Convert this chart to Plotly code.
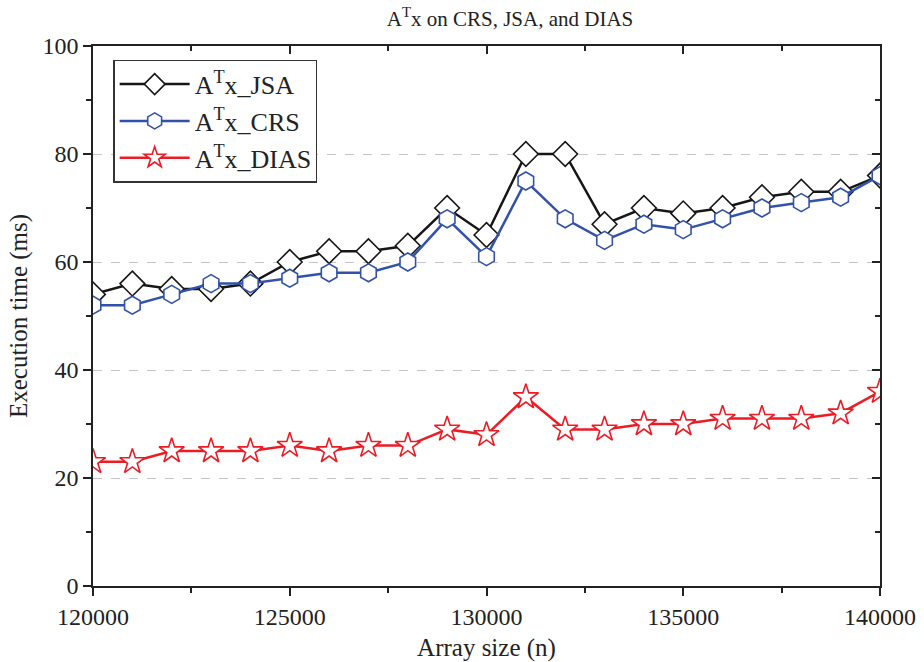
import plotly.graph_objects as go

# Array sizes (n) and execution times (ms) for A^T x on three storage formats
array_size = list(range(120000, 140001, 1000))
jsa_ms = [54, 56, 55, 55, 56, 60, 62, 62, 63, 70, 65, 80, 80, 67, 70, 69, 70, 72, 73, 73, 76]
crs_ms = [52, 52, 54, 56, 56, 57, 58, 58, 60, 68, 61, 75, 68, 64, 67, 66, 68, 70, 71, 72, 76]
dias_ms = [23, 23, 25, 25, 25, 26, 25, 26, 26, 29, 28, 35, 29, 29, 30, 30, 31, 31, 31, 32, 36]

FONT = "Liberation Serif"
BLACK = "#161616"
BLUE = "#3152a8"
RED = "#ec1c24"
TXT = "#222"

fig = go.Figure()

series = [
    ("A<sup>T</sup>x_JSA", jsa_ms, BLACK, "diamond", 19),
    ("A<sup>T</sup>x_CRS", crs_ms, BLUE, "hexagon", 18),
    ("A<sup>T</sup>x_DIAS", dias_ms, RED, "star", 19),
]
for name, vals, color, symbol, size in series:
    fig.add_trace(go.Scatter(
        x=array_size, y=vals, name=name, mode="lines+markers",
        line=dict(color=color, width=2.5),
        marker=dict(symbol=symbol, size=size, color="white",
                    line=dict(color=color, width=1.6)),
    ))

axis_common = dict(
    showline=True, linecolor=TXT, linewidth=1.5,
    tickcolor=TXT, tickwidth=1.5, automargin=False,
    tickfont=dict(family=FONT, size=24, color=TXT),
)

fig.update_layout(
    width=924, height=662,
    margin=dict(l=93, r=44, t=46, b=76),
    paper_bgcolor="white", plot_bgcolor="white",
    font=dict(family=FONT, color=TXT),
    title=dict(text="A<sup>T</sup>x on CRS, JSA, and DIAS",
               x=0.552, xanchor="center", y=0.972, yanchor="middle",
               yref="container", font=dict(family=FONT, size=21, color=TXT)),
    xaxis=dict(
        range=[120000, 140000], dtick=5000, tick0=120000, tickformat="d",
        ticks="outside", ticklen=8,
        minor=dict(dtick=2500, ticks="outside", ticklen=5, tickcolor=TXT, tickwidth=1.5),
        showgrid=False, zeroline=False,
        title=dict(text="Array size (n)", font=dict(family=FONT, size=25, color=TXT), standoff=10),
        **axis_common,
    ),
    yaxis=dict(
        range=[0, 100], dtick=20, tick0=0,
        ticks="outside", ticklen=8,
        minor=dict(dtick=10, ticks="outside", ticklen=5, tickcolor=TXT, tickwidth=1.5),
        showgrid=True, gridcolor="#c4c4c4", griddash="dash", gridwidth=1,
        zeroline=False,
        title=dict(text="Execution time (ms)", font=dict(family=FONT, size=25, color=TXT), standoff=8),
        **axis_common,
    ),
    xaxis2=dict(
        overlaying="x", side="top", range=[120000, 140000], dtick=5000, tick0=120000,
        ticks="inside", ticklen=8, showticklabels=False,
        minor=dict(dtick=2500, ticks="inside", ticklen=5, tickcolor=TXT, tickwidth=1.5),
        showgrid=False, zeroline=False, anchor="y",
        **axis_common,
    ),
    yaxis2=dict(
        overlaying="y", side="right", range=[0, 100], dtick=20, tick0=0,
        ticks="inside", ticklen=8, showticklabels=False,
        minor=dict(dtick=10, ticks="inside", ticklen=5, tickcolor=TXT, tickwidth=1.5),
        showgrid=False, zeroline=False, anchor="x",
        **axis_common,
    ),
    legend=dict(
        x=0.026, y=0.975, xanchor="left", yanchor="top",
        bgcolor="white", bordercolor="#333", borderwidth=1.2,
        font=dict(family=FONT, size=26, color=TXT),
        itemwidth=70,
    ),
    showlegend=True,
)

# placeholder trace on the mirrored top/right axes so they are drawn
fig.add_trace(go.Scatter(x=[None], y=[None], xaxis="x2", yaxis="y2",
                         showlegend=False, hoverinfo="skip"))

fig.write_html("out.html")
